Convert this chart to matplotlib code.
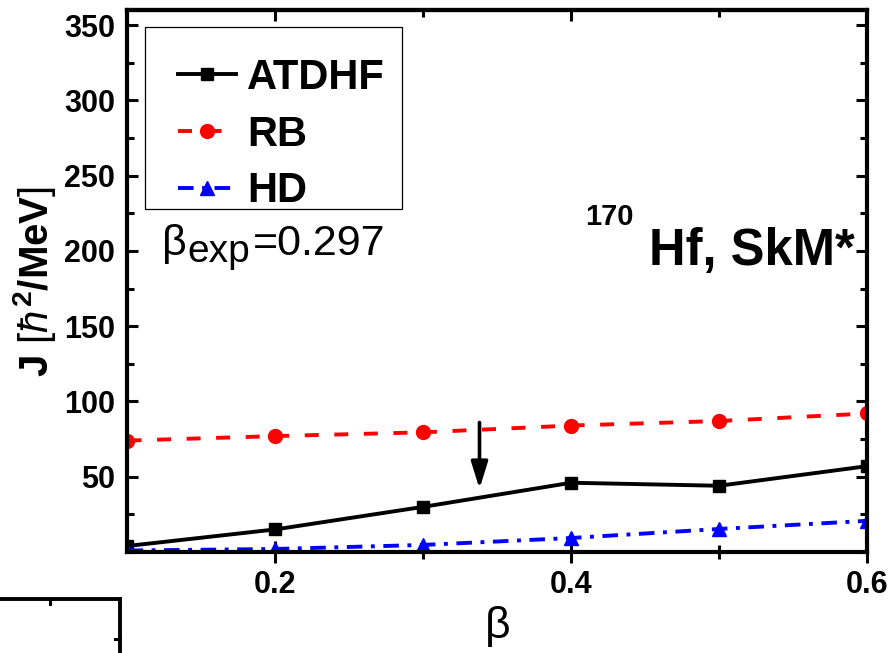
import matplotlib
matplotlib.use("Agg")
import matplotlib.pyplot as plt
from matplotlib.lines import Line2D
from matplotlib.patches import Rectangle
from matplotlib.ticker import MultipleLocator, FixedLocator

plt.rcParams['font.family'] = ['Liberation Sans', 'DejaVu Sans']
plt.rcParams['mathtext.fontset'] = 'custom'
plt.rcParams['mathtext.rm'] = 'Liberation Sans'
plt.rcParams['mathtext.it'] = 'Liberation Sans:italic'
plt.rcParams['mathtext.bf'] = 'Liberation Sans:bold'
plt.rcParams['mathtext.fallback'] = 'stix'

# data
beta = [0.1, 0.2, 0.3, 0.4, 0.5, 0.6]
j_atdhf = [4, 15, 30, 46, 44, 57]
j_rb = [74, 77, 79.5, 84, 87, 92]
j_hd = [1, 2, 4.7, 9.3, 15.3, 20.7]
labels = ["ATDHF", "RB", "HD"]

x_ticks = [0.2, 0.4, 0.6]
x_ticklabels = ["0.2", "0.4", "0.6"]
y_ticks = [50, 100, 150, 200, 250, 300, 350]
y_ticklabels = ["50", "100", "150", "200", "250", "300", "350"]

beta_arrow = 0.338
arrow_from, arrow_to = 86, 42

W, H = 894, 653
L, R, T, B = 127.5, 867, 10, 552


def ax_frac(px, py):
    ''' pixel position (from top-left) -> axes fraction '''
    return (px - L) / (R - L), (B - py) / (B - T)


fig = plt.figure(figsize=(W / 100, H / 100), dpi=100)
ax = fig.add_axes([L / W, (H - B) / H, (R - L) / W, (B - T) / H])

lw = 2.8
ax.plot(beta, j_atdhf, color='k', lw=lw, marker='s', ms=8, label=labels[0])
ax.plot(beta, j_rb, color='#ff0000', lw=lw, ls=(0, (3.6, 4)), marker='o', ms=10,
        label=labels[1])
ax.plot(beta, j_hd, color='#0000ff', lw=lw, ls=(0, (4, 2.2, 1, 2.2)), marker='^',
        ms=10, label=labels[2])

ax.annotate('', xy=(beta_arrow, arrow_to), xytext=(beta_arrow, arrow_from),
            arrowprops=dict(arrowstyle='-|>,head_length=0.45,head_width=0.14',
                            color='k', lw=2.6, mutation_scale=36,
                            shrinkA=0, shrinkB=0))

ax.set_xlim(0.1, 0.6)
ax.set_ylim(0, 360)
ax.xaxis.set_major_locator(FixedLocator(x_ticks))
ax.set_xticklabels(x_ticklabels)
ax.xaxis.set_minor_locator(FixedLocator([0.3, 0.5]))
ax.yaxis.set_major_locator(FixedLocator(y_ticks))
ax.set_yticklabels(y_ticklabels)
ax.yaxis.set_minor_locator(MultipleLocator(25))

for s in ax.spines.values():
    s.set_linewidth(3)

ax.tick_params(axis='x', which='major', direction='inout', length=16, width=2.2,
               pad=5, labelsize=22, top=False)
ax.tick_params(axis='x', which='minor', direction='inout', length=10, width=2.2,
               top=False)
ax.tick_params(axis='y', which='major', direction='in', length=8, width=2.2,
               pad=9, labelsize=22, right=True)
ax.tick_params(axis='y', which='minor', direction='in', length=5, width=2.2,
               right=True)
for lab in ax.get_xticklabels() + ax.get_yticklabels():
    lab.set_fontweight('bold')

top = ax.secondary_xaxis('top')
top.xaxis.set_major_locator(FixedLocator(x_ticks))
top.xaxis.set_minor_locator(FixedLocator([0.3, 0.5]))
top.tick_params(which='major', direction='in', length=8, width=2.2, labeltop=False)
top.tick_params(which='minor', direction='in', length=5, width=2.2)
top.spines['top'].set_linewidth(3)

ax.set_xlabel('β', fontsize=32, labelpad=4)
ax.set_ylabel(r'J $[\hbar^{\mathbf{2}}\mathbf{/MeV}]$', fontsize=29,
              fontweight='bold', labelpad=4)

# legend: frame drawn by hand, Origin style
x0, y0 = ax_frac(145, 209)
x1, y1 = ax_frac(402, 27)
ax.add_patch(Rectangle((x0, y0), x1 - x0, y1 - y0, transform=ax.transAxes,
                       fill=False, ec='k', lw=0.9, zorder=5))
hx, hy = ax_frac(178, 58)
ax.legend(loc='upper left', bbox_to_anchor=(hx, hy), frameon=False,
          prop=dict(weight='bold', size=30), handlelength=1.4,
          handletextpad=0.25, labelspacing=0.4, borderpad=0, borderaxespad=0,
          numpoints=1)

# annotations
tx, ty = ax_frac(162, 255)
ax.text(tx, ty, 'β', fontsize=31, transform=ax.transAxes, va='baseline')
tx, ty = ax_frac(187, 262)
ax.text(tx, ty, 'exp', fontsize=28, transform=ax.transAxes, va='baseline')
tx, ty = ax_frac(253, 255)
ax.text(tx, ty, '=0.297', fontsize=31, transform=ax.transAxes, va='baseline')

tx, ty = ax_frac(585, 225)
ax.text(tx, ty, '170', fontsize=21, fontweight='bold', transform=ax.transAxes,
        va='baseline')
tx, ty = ax_frac(649, 265)
ax.text(tx, ty, 'Hf, SkM*', fontsize=36.5, fontweight='bold',
        transform=ax.transAxes, va='baseline')

# corner of the neighbouring panel, bottom left
def fig_line(xs, ys, **kw):
    fig.add_artist(Line2D([x / W for x in xs], [1 - y / H for y in ys],
                          transform=fig.transFigure, color='k', **kw))

fig_line([0, 120], [599, 599], lw=2.8)
fig_line([120, 120], [599, 653], lw=2.8)
fig_line([50, 50], [599, 604], lw=2.2)
fig_line([120, 115], [639, 639], lw=2.2)

fig.savefig('out.png', dpi=100)
